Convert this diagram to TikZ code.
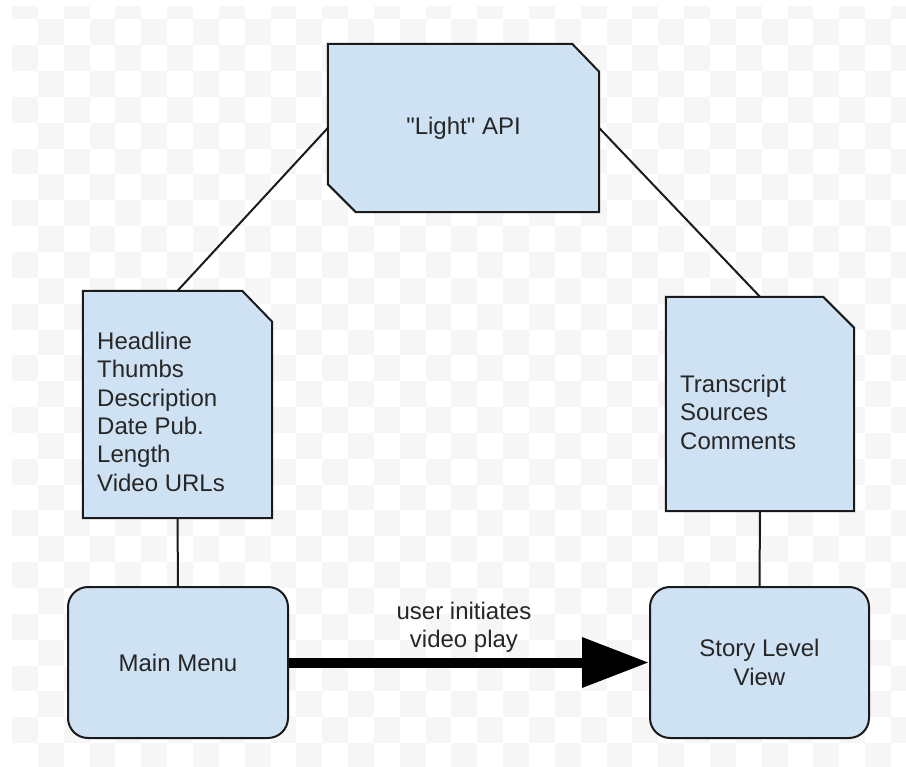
\documentclass[tikz,border=0pt]{standalone}
\usepackage{fontspec}
\newfontfamily\arialfont{Liberation Sans}
\usetikzlibrary{arrows.meta}
\definecolor{boxblue}{HTML}{CFE2F3}
\definecolor{checkgray}{HTML}{F6F6F6}
\definecolor{edgecol}{HTML}{1A1A1A}
\newcommand{\diagfont}{\arialfont\fontsize{24}{28.3}\selectfont}
\begin{document}
\begin{tikzpicture}[x=1pt,y=-1pt,
  boxline/.style={draw=edgecol, line width=2pt, fill=boxblue, line join=miter},
  frame/.style={shape=rectangle, inner sep=0pt, draw=none},
  roundbox/.style={draw=edgecol, line width=2pt, fill=boxblue, rounded corners=20pt, inner sep=0pt, align=center, font=\diagfont, text=black!85},
  txt/.style={inner sep=0pt, align=left, font=\diagfont, text=black!85},
  conn/.style={draw=edgecol, line width=2pt},
  bigarrow/.style={draw=black, line width=10pt, -{Triangle[length=67pt,width=48pt]}}
]
\useasboundingbox (0,0) rectangle (906,767);
% checkerboard background
\begin{scope}
  \clip (12,7) rectangle (906,767);
  \foreach \i in {0,...,34}{
    \foreach \j in {0,...,30}{
      \pgfmathtruncatemacro{\cpar}{mod(\i+\j,2)}
      \ifnum\cpar=0
        \fill[checkgray] ({12+25.85*\i},{-6.5+25.85*\j}) rectangle ++(25.85,25.85);
      \fi
    }
  }
\end{scope}

% frames
\node[frame, minimum width=271pt, minimum height=168pt] (api) at (463.5,128) {};
\node[frame, minimum width=189pt, minimum height=227pt] (ldoc) at (177.5,404.5) {};
\node[frame, minimum width=188pt, minimum height=214pt] (rdoc) at (760,404) {};

% connectors to API
\draw[conn] (api.west) -- (ldoc.north);
\draw[conn] (api.east) -- (rdoc.north);

% shapes
\draw[boxline] (api.north west) -- ([xshift=-27pt]api.north east) -- ([yshift=-28pt]api.north east)
  -- (api.south east) -- ([xshift=28pt]api.south west) -- ([yshift=28pt]api.south west) -- cycle;
\draw[boxline] (ldoc.north west) -- ([xshift=-30pt]ldoc.north east) -- ([yshift=-31pt]ldoc.north east)
  -- (ldoc.south east) -- (ldoc.south west) -- cycle;
\draw[boxline] (rdoc.north west) -- ([xshift=-31pt]rdoc.north east) -- ([yshift=-31pt]rdoc.north east)
  -- (rdoc.south east) -- (rdoc.south west) -- cycle;

\node[txt, align=center] (apitext) at (api.center) {"Light" API};
\node[txt, anchor=north west] (ltext) at (97,332) {Headline\\Thumbs\\Description\\Date Pub.\\Length\\Video URLs};
\node[txt, anchor=north west] (rtext) at (680,375) {Transcript\\Sources\\Comments};

\node[roundbox, minimum width=220pt, minimum height=151pt] (mm) at (178,662.5) {Main Menu};
\node[roundbox, minimum width=219pt, minimum height=151pt] (slv) at (759.5,662.5) {Story Level\\View};

\draw[conn] (ldoc.south) -- (mm.north);
\draw[conn] (rdoc.south) -- (slv.north);

\draw[bigarrow] (mm.east) -- (slv.west);
\node[txt, align=center, anchor=north] (lbl) at (464,602) {user initiates\\video play};
\end{tikzpicture}
\end{document}
